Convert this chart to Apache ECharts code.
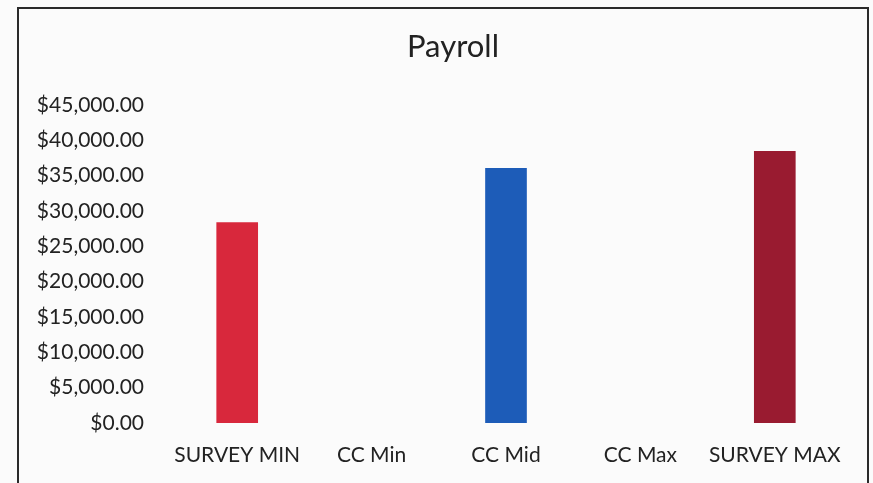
<!DOCTYPE html>
<html>
<head>
<meta charset="utf-8">
<script src="https://cdn.jsdelivr.net/npm/echarts@6/dist/echarts.min.js"></script>
<style>
  html, body { margin: 0; padding: 0; background: #fbfbfb; }
  #ChartBar { width: 873px; height: 483px; }
</style>
</head>
<body>
<div id="ChartBar"></div>
<script>
// payroll values (CC Min / CC Max have no bar)
const categories = ['SURVEY MIN', 'CC Min', 'CC Mid', 'CC Max', 'SURVEY MAX'];
const payroll = [28400, null, 36100, null, 38500];
const yTicks = [0, 5000, 10000, 15000, 20000, 25000, 30000, 35000, 40000, 45000];

const barColors = ['#d8283c', '#c00000', '#1d5cb8', '#c00000', '#991b30'];
const font = 'Lato, "Open Sans", sans-serif';

const chart = echarts.init(document.getElementById('ChartBar'));

const option = {
  backgroundColor: '#fbfbfb',
  animation: false,
  title: {
    text: 'Payroll',
    left: 448,
    textAlign: 'center',
    top: 26,
    textStyle: { fontFamily: font, fontSize: 31, fontWeight: 'normal', color: '#222' }
  },
  graphic: [{
    type: 'rect',
    shape: { x: 18, y: 8, width: 850, height: 520 },
    style: { fill: 'none', stroke: '#2a2a2a', lineWidth: 2 }
  }],
  grid: { left: 170, right: 31, top: 105, bottom: 60 },
  xAxis: {
    type: 'category',
    data: categories,
    axisLine: { show: false },
    axisTick: { show: false },
    axisLabel: { interval: 0, fontFamily: font, fontSize: 21, color: '#222', margin: 22 }
  },
  yAxis: {
    type: 'value',
    min: yTicks[0],
    max: yTicks[yTicks.length - 1],
    interval: 5000,
    splitLine: { show: false },
    axisLine: { show: false },
    axisTick: { show: false },
    axisLabel: {
      fontFamily: font, fontSize: 21, color: '#222', margin: 26,
      formatter: v => '$' + v.toLocaleString('en-US', { minimumFractionDigits: 2, maximumFractionDigits: 2 })
    }
  },
  series: [{
    type: 'bar',
    data: payroll,
    barWidth: '31%',
    itemStyle: { color: p => barColors[p.dataIndex] }
  }]
};

option && chart.setOption(option);
</script>
</body>
</html>
